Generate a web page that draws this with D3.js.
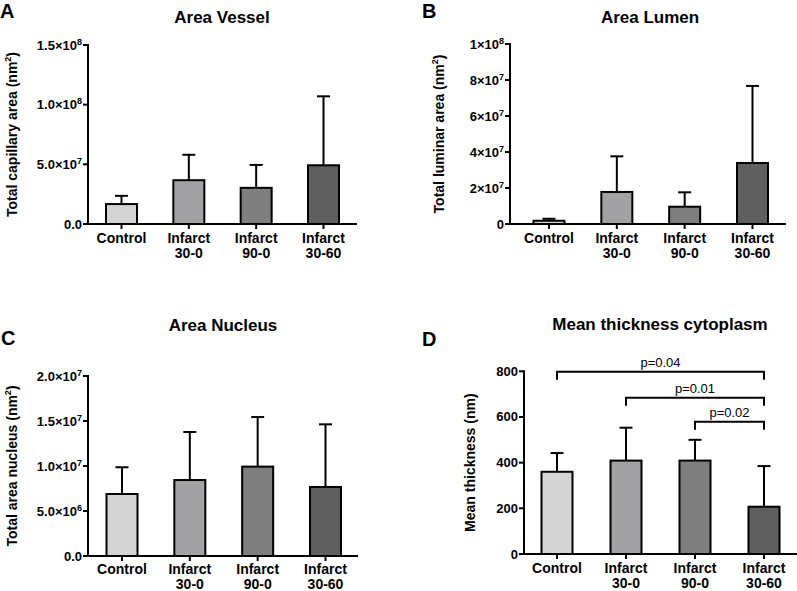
<!DOCTYPE html>
<html><head><meta charset="utf-8">
<script src="https://cdn.jsdelivr.net/npm/d3@7"></script>
<style>body{margin:0;background:#fff}svg{display:block;font-family:"Liberation Sans",Arial,sans-serif}</style>
</head><body><svg id="c" width="797" height="591"></svg>
<script>
const categories = [["Control"], ["Infarct","30-0"], ["Infarct","90-0"], ["Infarct","30-60"]];
const colors = ["#d4d4d4", "#a2a2a5", "#7f7f7f", "#5f5f5f"];

const vesselMean = [1.67e7, 3.67e7, 3.03e7, 4.92e7];
const vesselErr  = [2.36e7, 5.8e7, 4.95e7, 1.07e8];
const vesselTicks = [0, 5e7, 1e8, 1.5e8];
const vesselTickLabels = [["0.0",""],["5.0×10","7"],["1.0×10","8"],["1.5×10","8"]];

const lumenMean = [1.8e6, 1.78e7, 9.6e6, 3.39e7];
const lumenErr  = [2.9e6, 3.76e7, 1.76e7, 7.67e7];
const lumenTicks = [0, 2e7, 4e7, 6e7, 8e7, 1e8];
const lumenTickLabels = [["0",""],["2×10","7"],["4×10","7"],["6×10","7"],["8×10","7"],["1×10","8"]];

const nucleusMean = [6.89e6, 8.44e6, 9.93e6, 7.67e6];
const nucleusErr  = [9.86e6, 1.378e7, 1.544e7, 1.463e7];
const nucleusTicks = [0, 5e6, 1e7, 1.5e7, 2e7];
const nucleusTickLabels = [["0.0",""],["5.0×10","6"],["1.0×10","7"],["1.5×10","7"],["2.0×10","7"]];

const thickMean = [360, 409, 409, 207];
const thickErr  = [442, 553, 500, 385];
const thickTicks = [0, 200, 400, 600, 800];
const thickTickLabels = [["0",""],["200",""],["400",""],["600",""],["800",""]];
const brackets = [{from:0,to:3,level:798,label:"p=0.04"},{from:1,to:3,level:684,label:"p=0.01"},{from:2,to:3,level:579,label:"p=0.02"}];

const svg = d3.select("#c");

function panel(o){
  const g = svg.append("g");
  const y = d3.scaleLinear().domain([0, o.max]).range([o.y0, o.yTop]);
  const x = d3.scalePoint().domain(d3.range(4)).range([o.c0, o.c3]);
  const bw = 31;
  g.append("text").attr("x", o.letter[0]).attr("y", o.letter[1]).attr("font-size", 20).attr("font-weight","bold").text(o.letterText);
  g.append("text").attr("x", o.title[0]).attr("y", o.title[1]).attr("text-anchor","middle").attr("font-size",17).attr("font-weight","bold").text(o.titleText);
  o.mean.forEach((m,i)=>{
    const cx = x(i);
    g.append("line").attr("x1",cx).attr("x2",cx).attr("y1",y(m)).attr("y2",y(o.err[i])).attr("stroke","#000").attr("stroke-width",2);
    g.append("line").attr("x1",cx-6.5).attr("x2",cx+6.5).attr("y1",y(o.err[i])).attr("y2",y(o.err[i])).attr("stroke","#000").attr("stroke-width",2);
    g.append("rect").attr("x",cx-bw/2).attr("y",y(m)).attr("width",bw).attr("height",o.y0-y(m)).attr("fill",colors[i]).attr("stroke","#000").attr("stroke-width",2);
  });
  g.append("line").attr("x1",o.ax).attr("x2",o.ax).attr("y1",y(o.max)-1).attr("y2",o.y0+1).attr("stroke","#000").attr("stroke-width",2);
  o.ticks.forEach((t,i)=>{
    g.append("line").attr("x1",o.ax-5).attr("x2",o.ax).attr("y1",y(t)).attr("y2",y(t)).attr("stroke","#000").attr("stroke-width",2);
    const tx = g.append("text").attr("x",o.ax-6).attr("y",y(t)+4.5).attr("text-anchor","end").attr("font-size",13).attr("font-weight","bold");
    tx.append("tspan").text(o.tickLabels[i][0]);
    if(o.tickLabels[i][1]) tx.append("tspan").attr("font-size",9).attr("dy",-5).text(o.tickLabels[i][1]);
  });
  g.append("line").attr("x1",o.ax-1).attr("x2",o.xEnd).attr("y1",o.y0).attr("y2",o.y0).attr("stroke","#000").attr("stroke-width",2);
  categories.forEach((c,i)=>{
    const cx = x(i);
    g.append("line").attr("x1",cx).attr("x2",cx).attr("y1",o.y0).attr("y2",o.y0+5).attr("stroke","#000").attr("stroke-width",2);
    c.forEach((s,j)=>g.append("text").attr("x",cx).attr("y",o.y0+o.lb+15*j).attr("text-anchor","middle").attr("font-size",14).attr("font-weight","bold").text(s));
  });
  const yl = g.append("text").attr("transform",`translate(${o.ylx},${(o.y0+y(o.max))/2}) rotate(-90)`).attr("text-anchor","middle").attr("font-size",14).attr("font-weight","bold");
  yl.append("tspan").text(o.ylabel[0]);
  if(o.ylabel[1]){ yl.append("tspan").attr("font-size",9).attr("dy",-6).text(o.ylabel[1]); yl.append("tspan").attr("dy",6).text(o.ylabel[2]); }
  return {g,x,y};
}

panel({letterText:"A",letter:[0,18],titleText:"Area Vessel",title:[222,23],ax:88,y0:224,yTop:45,max:1.5e8,c0:121.5,c3:323.5,xEnd:357,lb:19,mean:vesselMean,err:vesselErr,ticks:vesselTicks,tickLabels:vesselTickLabels,ylx:17,ylabel:["Total capillary area (nm","2",")"]});
panel({letterText:"B",letter:[422,18],titleText:"Area Lumen",title:[650,23],ax:510,y0:224,yTop:44,max:1e8,c0:549,c3:752.5,xEnd:786,lb:19,mean:lumenMean,err:lumenErr,ticks:lumenTicks,tickLabels:lumenTickLabels,ylx:444,ylabel:["Total luminar area (nm","2",")"]});
panel({letterText:"C",letter:[1,345],titleText:"Area Nucleus",title:[223,331],ax:88,y0:556,yTop:376,max:2e7,c0:122,c3:325.5,xEnd:358,lb:18,mean:nucleusMean,err:nucleusErr,ticks:nucleusTicks,tickLabels:nucleusTickLabels,ylx:17,ylabel:["Total area nucleus (nm","2",")"]});
const d = panel({letterText:"D",letter:[422,346],titleText:"Mean thickness cytoplasm",title:[660,330],ax:524,y0:554,yTop:371.3,max:800,c0:557,c3:764,xEnd:797,lb:19,mean:thickMean,err:thickErr,ticks:thickTicks,tickLabels:thickTickLabels,ylx:475,ylabel:["Mean thickness (nm)"]});
brackets.forEach(b=>{
  const x1=d.x(b.from), x2=d.x(b.to), yy=d.y(b.level);
  d.g.append("path").attr("d",`M${x1},${yy+8}V${yy}H${x2}V${yy+8}`).attr("fill","none").attr("stroke","#000").attr("stroke-width",2);
  d.g.append("text").attr("x",(x1+x2)/2).attr("y",yy-5).attr("text-anchor","middle").attr("font-size",13).text(b.label);
});
</script></body></html>
